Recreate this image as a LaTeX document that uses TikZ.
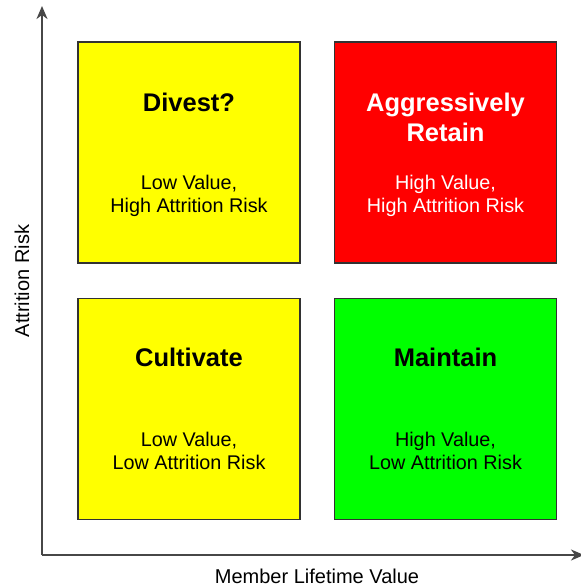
\documentclass[tikz,border=0pt]{standalone}
\usepackage{fontspec}
\setmainfont{Liberation Sans}
\usetikzlibrary{arrows.meta}
\definecolor{qyellow}{RGB}{255,255,0}
\definecolor{qred}{RGB}{255,0,0}
\definecolor{qgreen}{RGB}{0,255,0}
\definecolor{edge}{RGB}{50,50,50}
\begin{document}
\begin{tikzpicture}[x=1pt,y=-1pt,
  quad/.style={draw=edge,line width=1.6pt,minimum width=222pt,minimum height=221pt,inner sep=0pt},
  title/.style={font=\fontsize{25.5}{30}\selectfont\bfseries,align=center},
  desc/.style={font=\fontsize{19.8}{23}\selectfont,align=center},
  axis/.style={draw=edge!90,line width=2pt,-{Stealth[length=13pt,width=11pt,inset=4pt]}},
  axlabel/.style={font=\fontsize{20}{24}\selectfont}]
\useasboundingbox (0,0) rectangle (581,587);
\coordinate (origin) at (42,555);
\coordinate (ytip) at (42,6);
\coordinate (xtip) at (584,555);
\draw[axis] (origin) -- (ytip);
\draw[axis] (origin) -- (xtip);
\node[quad,fill=qyellow] (tl) at (189,152.5) {};
\node[quad,fill=qred] (tr) at (445.5,152.5) {};
\node[quad,fill=qyellow] (bl) at (189,409) {};
\node[quad,fill=qgreen] (br) at (445.5,409) {};
\node[title] (tlt) at (189,102) {Divest?};
\node[desc] (tld) at (189,196) {Low Value,\\High Attrition Risk};
\node[title,text=white] (trt) at (445.5,117) {Aggressively\\Retain};
\node[desc,text=white] (trd) at (445.5,196) {High Value,\\High Attrition Risk};
\node[title] (blt) at (189,357) {Cultivate};
\node[desc] (bld) at (189,451) {Low Value,\\Low Attrition Risk};
\node[title] (brt) at (445.5,357) {Maintain};
\node[desc] (brd) at (445.5,451) {High Value,\\Low Attrition Risk};
\node[axlabel,rotate=90] (yl) at (22,281) {Attrition Risk};
\node[axlabel] (xl) at (317,576) {Member Lifetime Value};
\end{tikzpicture}
\end{document}
